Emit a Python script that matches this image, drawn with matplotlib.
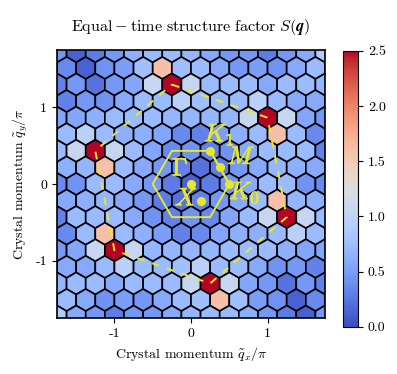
import numpy as np
import matplotlib
matplotlib.use("Agg")
import matplotlib.pyplot as plt
import matplotlib.patheffects as pe
from matplotlib.patches import RegularPolygon, Polygon
from matplotlib.collections import PatchCollection

plt.rcParams['font.family'] = 'serif'
plt.rcParams['font.serif'] = ['cmr10']
plt.rcParams['mathtext.fontset'] = 'cm'
plt.rcParams['axes.unicode_minus'] = False
plt.rcParams['axes.formatter.use_mathtext'] = True

# momentum grid: triangular lattice, spacing 0.25 (units of pi)
a = 0.25
# S(q) per row, top (m=8) to bottom (m=-8); even rows start at x=-1.75, odd at x=-1.625
row_p8 = [0.45, 0.12, 0.28, 0.45, 0.63, 0.72, 0.72, 0.68, 0.58, 0.45, 0.45, 0.28, 0.45, 0.58, 0.9]
row_p7 = [0.37, 0.12, 0.42, 0.5, 0.76, 1.6, 0.76, 0.72, 0.58, 0.45, 0.5, 0.42, 0.58, 0.72]
row_p6 = [0.32, 0.45, 0.22, 0.45, 0.55, 1.05, 3.0, 1.05, 0.72, 0.72, 0.72, 0.58, 0.72, 0.72, 0.68]
row_p5 = [0.32, 0.45, 0.42, 0.58, 0.72, 0.72, 0.95, 0.76, 0.72, 0.72, 0.95, 0.72, 0.58, 0.58]
row_p4 = [0.55, 0.55, 0.63, 0.72, 0.72, 0.72, 0.68, 0.68, 0.68, 0.68, 1.05, 3.0, 1.05, 0.55, 0.45]
row_p3 = [0.72, 0.95, 0.72, 0.63, 0.63, 0.55, 0.37, 0.32, 0.5, 0.63, 0.72, 1.6, 0.72, 0.37]
row_p2 = [0.72, 1.05, 3.0, 1.05, 0.72, 0.55, 0.37, 0.42, 0.32, 0.42, 0.58, 0.72, 0.72, 0.72, 0.32]
row_p1 = [0.63, 0.68, 1.6, 0.72, 0.58, 0.45, 0.32, 0.22, 0.28, 0.45, 0.58, 0.68, 0.63, 0.58]
row_0 = [0.37, 0.42, 0.72, 0.72, 0.58, 0.45, 0.28, 0.12, 0.28, 0.45, 0.58, 0.72, 0.72, 0.42, 0.37]
row_m1 = [0.58, 0.63, 0.68, 0.58, 0.45, 0.28, 0.22, 0.32, 0.45, 0.58, 0.72, 1.6, 0.68, 0.63]
row_m2 = [0.32, 0.72, 0.72, 0.72, 0.58, 0.42, 0.32, 0.42, 0.37, 0.55, 0.72, 1.05, 3.0, 1.05, 0.72]
row_m3 = [0.37, 0.72, 1.6, 0.72, 0.63, 0.5, 0.32, 0.37, 0.55, 0.63, 0.63, 0.72, 0.95, 0.72]
row_m4 = [0.45, 0.55, 1.05, 3.0, 1.05, 0.68, 0.68, 0.68, 0.68, 0.72, 0.72, 0.72, 0.63, 0.55, 0.55]
row_m5 = [0.58, 0.58, 0.72, 0.95, 0.72, 0.72, 0.76, 0.95, 0.72, 0.72, 0.58, 0.42, 0.45, 0.32]
row_m6 = [0.68, 0.72, 0.72, 0.58, 0.72, 0.72, 0.72, 1.05, 3.0, 1.05, 0.55, 0.45, 0.22, 0.45, 0.32]
row_m7 = [0.72, 0.58, 0.42, 0.5, 0.45, 0.58, 0.72, 0.76, 1.6, 0.76, 0.5, 0.42, 0.12, 0.37]
row_m8 = [0.9, 0.58, 0.45, 0.28, 0.45, 0.45, 0.58, 0.68, 0.72, 0.72, 0.63, 0.45, 0.28, 0.12, 0.45]

rows = {8: row_p8, 7: row_p7, 6: row_p6, 5: row_p5, 4: row_p4, 3: row_p3,
        2: row_p2, 1: row_p1, 0: row_0, -1: row_m1, -2: row_m2, -3: row_m3,
        -4: row_m4, -5: row_m5, -6: row_m6, -7: row_m7, -8: row_m8}

# Bragg peaks (dashed hexagon) and BZ points
bragg_x = [-0.25, 1.0, 1.25, 0.25, -1.0, -1.25]
bragg_y = [1.299, 0.866, -0.433, -1.299, -0.866, 0.433]
bz_names = [r'$\Gamma$', r'$K_1$', r'$M$', r'$K_0$', r'$X$']
bz_x = [0.0, 0.25, 0.375, 0.5, 0.125]
bz_y = [0.0, 0.433, 0.2165, 0.0, -0.2165]

fig = plt.figure(figsize=(3.97, 3.74), dpi=100)
ax = fig.add_axes([0.1436, 0.1497, 0.675, 0.7166])
cax = fig.add_axes([0.864, 0.126, 0.038, 0.738])

r = a / np.sqrt(3)
patches, vals = [], []
for m, vv in rows.items():
    y = m * a * np.sqrt(3) / 2
    x0 = -1.75 if m % 2 == 0 else -1.625
    for i, v in enumerate(vv):
        patches.append(RegularPolygon((x0 + i * a, y), 6, radius=r, orientation=0))
        vals.append(v)

pc = PatchCollection(patches, cmap='coolwarm', edgecolor='black', linewidth=1.2)
pc.set_array(np.array(vals))
pc.set_clim(0, 2.5)
ax.add_collection(pc)

yel = '#e8e82a'
ax.add_patch(Polygon(list(zip(bragg_x, bragg_y)), closed=True, fill=False,
                     edgecolor=yel, linestyle=(0, (4, 4)), linewidth=1.4))
ang = np.arange(6) * np.pi / 3
ax.add_patch(Polygon(np.c_[0.5 * np.cos(ang), 0.5 * np.sin(ang)], closed=True, fill=False,
                     edgecolor=yel, linewidth=1.4))
ax.plot(bz_x[1:4], bz_y[1:4], color=yel, lw=1.4)
ax.plot(bz_x, bz_y, 'o', color=yel, ms=5.5, ls='none')

label_pos = [(-0.14, 0.19), (0.37, 0.64), (0.66, 0.34), (0.7, -0.12), (-0.06, -0.2)]
for name, (lx, ly) in zip(bz_names, label_pos):
    ax.text(lx, ly, name, color=yel, fontsize=18, ha='center', va='center',
            path_effects=[pe.withStroke(linewidth=0.5, foreground=yel)])

ax.set_xlim(-1.75, 1.75)
ax.set_ylim(-1.75, 1.75)
ax.set_aspect('equal')
ax.set_xticks([-1, 0, 1])
ax.set_yticks([-1, 0, 1])
ax.set_xticklabels(['-1', '0', '1'])
ax.set_yticklabels(['-1', '0', '1'])
ax.set_xlabel(r'Crystal momentum $\tilde{q}_x/\pi$', fontsize=10)
ax.set_ylabel(r'Crystal momentum $\tilde{q}_y/\pi$', fontsize=10)
ax.tick_params(labelsize=10)
for s in ax.spines.values():
    s.set_linewidth(1.2)
fig.suptitle(r'$\mathrm{Equal-time\ structure\ factor}\ S(\boldsymbol{q})$', fontsize=11.6, y=0.955, x=0.481)

cb = fig.colorbar(pc, cax=cax, ticks=[0, 0.5, 1.0, 1.5, 2.0, 2.5])
cb.ax.set_yticklabels(['0.0', '0.5', '1.0', '1.5', '2.0', '2.5'])
cb.ax.tick_params(labelsize=10)

fig.savefig('out.png', dpi=100)
